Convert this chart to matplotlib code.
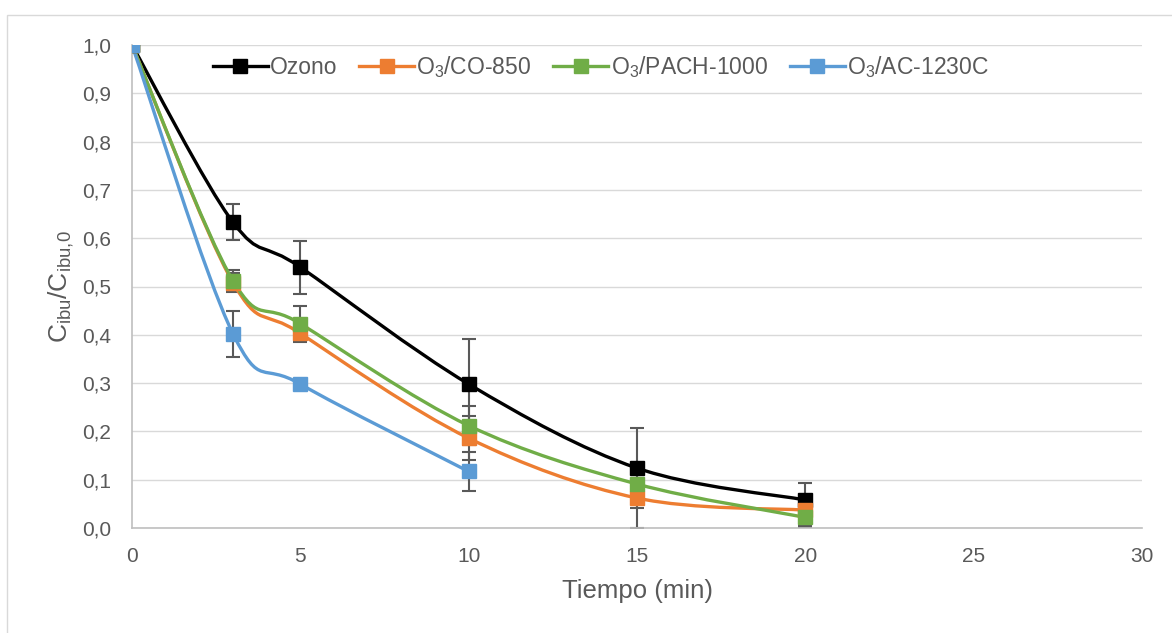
import numpy as np
import matplotlib
matplotlib.use("Agg")
import matplotlib.pyplot as plt
from matplotlib.path import Path
from matplotlib.patches import PathPatch, Rectangle
from matplotlib.lines import Line2D

plt.rcParams['font.family'] = ['Liberation Sans', 'DejaVu Sans']
plt.rcParams['mathtext.fontset'] = 'custom'
plt.rcParams['mathtext.rm'] = 'Liberation Sans'
plt.rcParams['mathtext.it'] = 'Liberation Sans'

# ---- data ----
labels = ['Ozono', 'O$_3$/CO-850', 'O$_3$/PACH-1000', 'O$_3$/AC-1230C']
t_main = [0, 3, 5, 10, 15, 20]
t_ac = [0, 3, 5, 10]
ozono = [1.0, 0.633, 0.540, 0.298, 0.124, 0.058]
ozono_err = [0.0, 0.037, 0.055, 0.094, 0.083, 0.035]
co850 = [1.0, 0.508, 0.403, 0.186, 0.062, 0.037]
co850_err = [0.0, 0.020, 0.015, 0.046, 0.062, 0.030]
pach = [1.0, 0.512, 0.423, 0.212, 0.091, 0.022]
pach_err = [0.0, 0.022, 0.037, 0.040, 0.010, 0.020]
ac = [1.0, 0.402, 0.298, 0.117]
ac_err = [0.0, 0.047, 0.005, 0.040]

colors = ['#000000', '#ED7D31', '#70AD47', '#5B9BD5']
text_c = '#595959'
grid_c = '#D9D9D9'

W, H = 1172, 633
fig = plt.figure(figsize=(W/100, H/100), dpi=100)
# chart area border
fig.patches.append(Rectangle((7/W, -0.1), 1.2, 1 - 15/H + 0.1, transform=fig.transFigure,
                             fill=False, edgecolor=grid_c, linewidth=1.0))
ax = fig.add_axes([132/W, 1 - 528/H, (1142-132)/W, (528-45)/H])


def smooth_path(x, y):
    x = np.asarray(x, float); y = np.asarray(y, float)
    P = np.column_stack([x, y])
    n = len(P)
    verts = [P[0]]
    codes = [Path.MOVETO]
    for i in range(n - 1):
        p0 = P[i - 1] if i > 0 else P[i]
        p1 = P[i]
        p2 = P[i + 1]
        p3 = P[i + 2] if i + 2 < n else P[i + 1]
        c1 = p1 + (p2 - p0) / 6.0
        c2 = p2 - (p3 - p1) / 6.0
        verts += [c1, c2, p2]
        codes += [Path.CURVE4] * 3
    return Path(verts, codes)


series = [(t_main, ozono, ozono_err), (t_main, co850, co850_err),
          (t_main, pach, pach_err), (t_ac, ac, ac_err)]

# error bars first
for (x, y, e) in series:
    ax.errorbar(x, y, yerr=e, fmt='none', ecolor='#595959', elinewidth=1.5,
                capsize=5, capthick=1.5, zorder=2)

for (x, y, e), c in zip(series, colors):
    ax.add_patch(PathPatch(smooth_path(x, y), facecolor='none', edgecolor=c,
                           linewidth=2.4, zorder=3, capstyle='round'))
    ax.plot(x, y, linestyle='none', marker='s', markersize=10.5, color=c, zorder=4)

ax.set_xlim(0, 30)
ax.set_ylim(0, 1.0)
ax.set_xticks(np.arange(0, 31, 5))
ax.set_yticks(np.arange(0, 1.01, 0.1))
ax.set_yticklabels([f"{v:.1f}".replace('.', ',') for v in np.arange(0, 1.01, 0.1)])
ax.grid(axis='y', color=grid_c, linewidth=1.0, zorder=0)
ax.set_axisbelow(True)
for s in ['top', 'right']:
    ax.spines[s].set_visible(False)
for s in ['left', 'bottom']:
    ax.spines[s].set_color('#BFBFBF')
    ax.spines[s].set_linewidth(1.2)
ax.tick_params(axis='both', length=0, labelsize=15, labelcolor=text_c)
ax.tick_params(axis='y', pad=15)
ax.tick_params(axis='x', pad=14)

ax.set_xlabel('Tiempo (min)', fontsize=18.5, color=text_c, labelpad=9)
ax.set_ylabel(r'C$_{\mathregular{ibu}}$/C$_{\mathregular{ibu,\!0}}$', fontsize=19, color=text_c, labelpad=4)

handles = [Line2D([], [], color=c, linewidth=2.4, marker='s', markersize=10.5) for c in colors]
leg = ax.legend(handles, labels, loc='upper center', bbox_to_anchor=(0.464, 1.0), ncol=4,
                frameon=False, fontsize=16.5, handlelength=2.4, handletextpad=0.1,
                columnspacing=0.95, borderaxespad=0.0)
for t in leg.get_texts():
    t.set_color(text_c)

fig.savefig('out.png', dpi=100)
